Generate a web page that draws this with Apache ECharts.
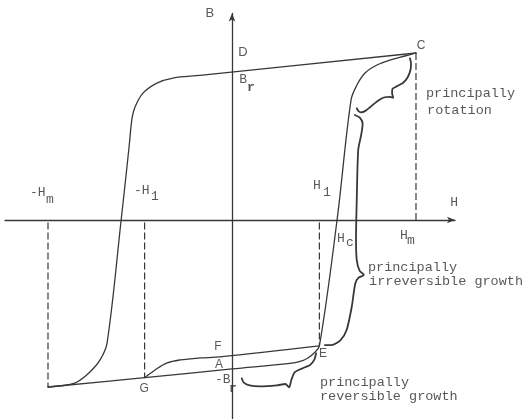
<!DOCTYPE html>
<html>
<head>
<meta charset="utf-8">
<script src="https://cdn.jsdelivr.net/npm/echarts@6/dist/echarts.min.js"></script>
<style>
  html, body { margin: 0; padding: 0; background: #ffffff; }
  #chart { width: 524px; height: 419px; }
</style>
</head>
<body>
<div id="chart"></div>
<script>
// Hysteresis loop. H is expressed in units of Hm, B in units of Bm.
const Hm = 1;
const Bm = 1;
const H1 = 0.475;

// Major loop, descending branch: from C along the top, down through -Hc, to (-Hm, -Bm)
const descendingBranch = [
  [1, 1], [-0.174, 0.866], [-0.321, 0.850], [-0.408, 0.820], [-0.484, 0.760],
  [-0.527, 0.677], [-0.543, 0.611], [-0.560, 0.431], [-0.603, -0.006],
  [-0.679, -0.737], [-0.717, -0.838], [-0.772, -0.910], [-0.842, -0.970],
  [-0.897, -0.988], [-1, -1]
];

// Major loop, ascending branch: along the bottom through G, A and E, then up through Hc to C
const ascendingBranch = [
  [-1, -1], [-0.475, -0.944], [0, -0.892], [0.315, -0.859], [0.370, -0.847],
  [0.413, -0.826], [0.446, -0.796], [0.475, -0.754], [0.571, 0], [0.647, 0.719],
  [0.679, 0.808], [0.723, 0.880], [0.788, 0.928], [0.859, 0.958], [0.940, 0.982],
  [1, 1]
];

// Minor path G -> F -> E
const minorPath = [
  [-0.475, -0.944], [-0.418, -0.898], [-0.353, -0.856], [-0.283, -0.838],
  [-0.174, -0.826], [-0.065, -0.820], [0.475, -0.754]
];

// Vertical dashed guides at -Hm, -H1, H1, Hm
const guideLines = [
  [[-Hm, -0.015], [-Hm, -Bm]],
  [[-H1, -0.015], [-H1, -0.944]],
  [[H1, -0.015], [H1, -0.754]],
  [[Hm, Bm], [Hm, 0]]
];

// Curly braces marking the three regimes
const braceRotation = [
  [0.967, 0.968], [0.973, 0.938], [0.970, 0.898], [0.955, 0.855], [0.930, 0.822],
  [0.895, 0.800], [0.872, 0.785], [0.870, 0.760], [0.876, 0.732], [0.858, 0.737],
  [0.830, 0.735], [0.804, 0.722], [0.777, 0.700], [0.750, 0.675], [0.723, 0.652],
  [0.700, 0.645], [0.686, 0.654], [0.678, 0.669]
];
const braceIrreversible = [
  [0.668, 0.629], [0.696, 0.611], [0.710, 0.575], [0.702, 0.509], [0.686, 0.419],
  [0.678, 0.120], [0.674, -0.120], [0.678, -0.240], [0.694, -0.305], [0.717, -0.329],
  [0.688, -0.345], [0.670, -0.380], [0.651, -0.519], [0.623, -0.659], [0.590, -0.719],
  [0.540, -0.749], [0.505, -0.749]
];
const braceReversible = [
  [0.053, -0.948], [0.063, -0.972], [0.095, -0.990], [0.152, -0.996], [0.243, -0.990],
  [0.290, -0.982], [0.311, -1.002], [0.322, -0.960], [0.340, -0.912], [0.379, -0.890],
  [0.424, -0.868], [0.447, -0.838], [0.457, -0.798]
];

// ---- drawing ----
const INK = '#383838';
const MONO = '"Liberation Mono", "DejaVu Sans Mono", monospace';
const SANS = '"Liberation Sans", "DejaVu Sans", sans-serif';

// Annotation texts, anchored in (H, B) coordinates
const notes = [
  { text: 'B', at: [-0.120, 1.234], font: SANS, size: 13 },
  { text: 'D', at: [0.060, 1.006], font: SANS, size: 13 },
  { text: 'B', at: [0.060, 0.838], font: MONO, size: 13 },
  { text: 'r', at: [0.103, 0.790], font: MONO, size: 13, bold: true },
  { text: 'C', at: [1.027, 1.042], font: SANS, size: 12 },
  { text: 'principally', at: [1.054, 0.760], font: MONO, size: 13.5, left: true },
  { text: 'rotation', at: [1.060, 0.659], font: MONO, size: 13.5, left: true },
  { text: '-H', at: [-1.098, 0.162], font: MONO, size: 13, left: true },
  { text: 'm', at: [-1.011, 0.120], font: MONO, size: 13, left: true },
  { text: '-H', at: [-0.533, 0.174], font: MONO, size: 13, left: true },
  { text: '1', at: [-0.440, 0.138], font: MONO, size: 13, left: true },
  { text: 'H', at: [0.440, 0.204], font: MONO, size: 13, left: true },
  { text: '1', at: [0.495, 0.162], font: MONO, size: 13, left: true },
  { text: 'H', at: [1.207, 0.102], font: MONO, size: 13 },
  { text: 'H', at: [0.913, -0.096], font: MONO, size: 13, left: true },
  { text: 'm', at: [0.951, -0.126], font: MONO, size: 13, left: true },
  { text: 'H', at: [0.571, -0.114], font: MONO, size: 13, left: true },
  { text: 'c', at: [0.620, -0.138], font: MONO, size: 13, left: true },
  { text: 'principally', at: [0.739, -0.281], font: MONO, size: 13.5, left: true },
  { text: 'irreversible growth', at: [0.745, -0.365], font: MONO, size: 13.5, left: true },
  { text: 'F', at: [-0.076, -0.760], font: SANS, size: 12 },
  { text: 'A', at: [-0.071, -0.868], font: SANS, size: 12 },
  { text: '-B', at: [-0.092, -0.958], font: MONO, size: 13, left: true },
  { text: 'r', at: [-0.016, -1.012], font: MONO, size: 13, left: true, bold: true },
  { text: 'G', at: [-0.478, -1.012], font: SANS, size: 12 },
  { text: 'E', at: [0.495, -0.802], font: SANS, size: 12 },
  { text: 'principally', at: [0.478, -0.970], font: MONO, size: 13.5, left: true },
  { text: 'reversible growth', at: [0.478, -1.054], font: MONO, size: 13.5, left: true }
];

function curve(data, width, smooth) {
  return {
    type: 'line', data: data, smooth: smooth, symbol: 'none', silent: true,
    lineStyle: { color: INK, width: width, cap: 'round', join: 'round' }
  };
}

function dashed(data) {
  return {
    type: 'line', data: data, symbol: 'none', silent: true,
    lineStyle: { color: INK, width: 1.2, type: [7, 3] }
  };
}

const series = [
  curve(descendingBranch, 1.3, 0.35),
  curve(ascendingBranch, 1.3, 0.35),
  curve(minorPath, 1.3, 0.35),
  curve(braceRotation, 1.8, 0.2),
  curve(braceIrreversible, 1.8, 0.25),
  curve(braceReversible, 1.8, 0.2)
].concat(guideLines.map(dashed));

series.push({
  type: 'scatter', symbolSize: 0, silent: true,
  data: notes.map(n => ({
    value: n.at,
    label: {
      show: true, position: 'inside', formatter: n.text,
      align: n.left ? 'left' : 'center', verticalAlign: 'middle',
      fontFamily: n.font, fontSize: n.size, fontWeight: n.bold ? 'bold' : 'normal',
      color: '#2e2e2e'
    }
  }))
});

const axisCommon = {
  type: 'value',
  axisTick: { show: false },
  axisLabel: { show: false },
  splitLine: { show: false },
  axisLine: {
    show: true, onZero: true, symbol: ['none', 'arrow'], symbolSize: [5, 8],
    lineStyle: { color: INK, width: 1.3 }
  }
};

const chart = echarts.init(document.getElementById('chart'), null, { renderer: 'canvas' });
chart.setOption({
  backgroundColor: '#ffffff',
  animation: false,
  grid: { left: 5, right: 69, top: 13.5, bottom: 0 },
  xAxis: Object.assign({}, axisCommon, { min: -1.2337, max: 1.2120 }),
  yAxis: Object.assign({}, axisCommon, { min: -1.1916, max: 1.2365 }),
  series: series
});
</script>
</body>
</html>
